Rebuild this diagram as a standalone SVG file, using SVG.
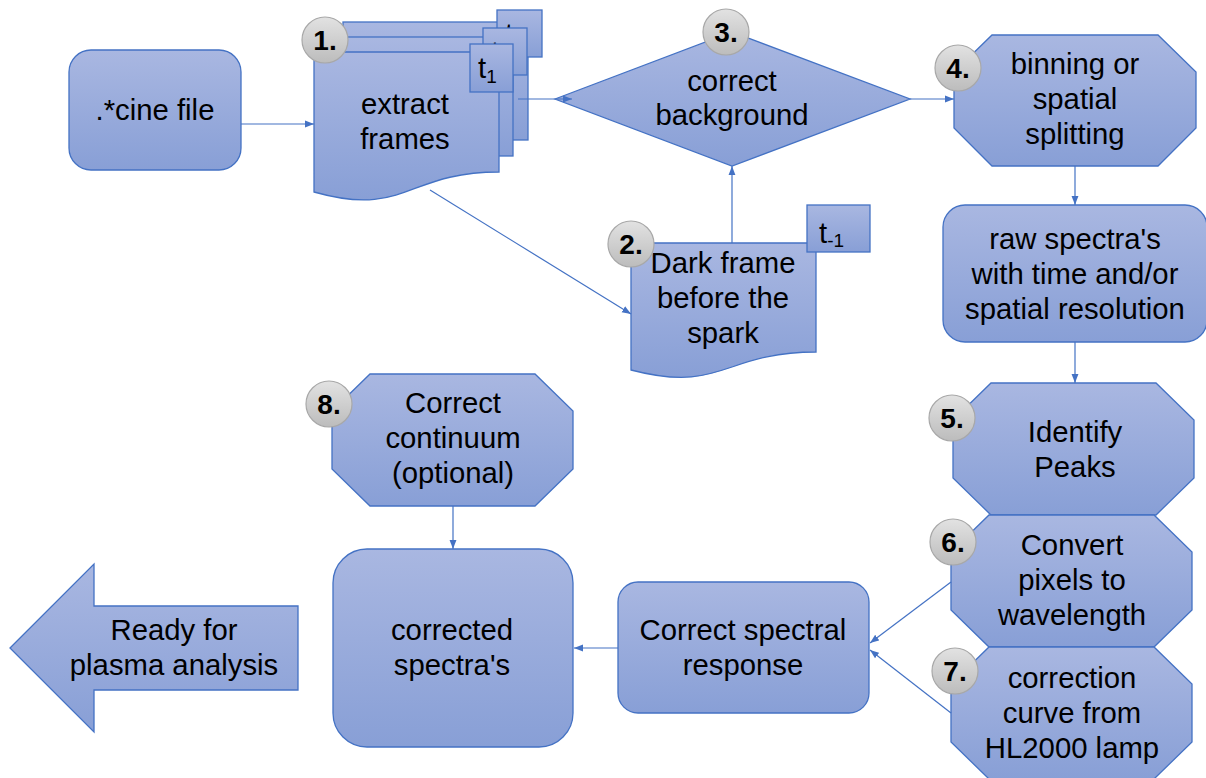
<svg xmlns="http://www.w3.org/2000/svg" width="1206" height="778" viewBox="0 0 1206 778">
<defs>
<linearGradient id="blue" x1="0" y1="0" x2="0" y2="1">
<stop offset="0" stop-color="#a9b7e1"/>
<stop offset="1" stop-color="#889fd6"/>
</linearGradient>
<linearGradient id="gray" x1="0" y1="0" x2="0" y2="1">
<stop offset="0" stop-color="#e2e2e2"/>
<stop offset="1" stop-color="#bcbcbc"/>
</linearGradient>
<marker id="ah" viewBox="0 0 10 10" refX="10" refY="5" markerWidth="9" markerHeight="9" markerUnits="userSpaceOnUse" orient="auto">
<path d="M0,1.2 L10,5 L0,8.8 Z" fill="#4472c4"/>
</marker>
</defs>
<style>
.s{fill:url(#blue);stroke:#4472c4;stroke-width:1.3}
.c{fill:url(#gray);stroke:#a8a8a8;stroke-width:1.2}
.t{font-family:"Liberation Sans",Arial,sans-serif;font-size:29.3px;fill:#000;text-anchor:middle}
.n{font-family:"Liberation Sans",Arial,sans-serif;font-size:28px;font-weight:bold;fill:#000;text-anchor:middle}
.sub{font-size:19px}
.l{fill:none;stroke:#4472c4;stroke-width:1.2;marker-end:url(#ah)}
</style>

<g id="cine">
<rect class="s" x="69" y="50" width="172" height="120" rx="22"/>
<text class="t" x="155" y="120">.*cine file</text>
</g>

<g id="extract">
<rect class="s" x="343" y="22" width="185" height="118"/>
<rect class="s" x="497" y="10" width="45" height="47"/>
<text class="t" x="505" y="44" style="text-anchor:start">t<tspan class="sub" dy="5">1</tspan></text>
<rect class="s" x="328" y="37" width="185" height="119"/>
<rect class="s" x="483" y="28" width="44" height="47"/>
<text class="t" x="491" y="62" style="text-anchor:start">t<tspan class="sub" dy="5">1</tspan></text>
<path class="s" d="M314,52 H499 V172 C406,172 406,218 314,192 Z"/>
<rect class="s" x="470" y="44" width="43" height="48"/>
<text class="t" x="478" y="78" style="text-anchor:start">t<tspan class="sub" dy="5">1</tspan></text>
<text class="t" x="405" y="114">extract</text>
<text class="t" x="405" y="149">frames</text>
<circle class="c" cx="325" cy="40" r="23"/>
<text class="n" x="325" y="50">1.</text>
</g>

<g id="dark">
<path class="s" d="M631,243 H816 V352 C723,352 723,394 631,370 Z"/>
<rect class="s" x="807" y="205" width="63" height="47"/>
<text class="t" x="819" y="243" style="text-anchor:start">t<tspan class="sub" dy="4">-1</tspan></text>
<text class="t" x="723" y="273">Dark frame</text>
<text class="t" x="723" y="308">before the</text>
<text class="t" x="723" y="343">spark</text>
<circle class="c" cx="631" cy="244" r="23"/>
<text class="n" x="631" y="254">2.</text>
</g>

<g id="background">
<path class="s" d="M555,99 L732,32 L910,99 L732,166 Z"/>
<text class="t" x="732" y="91">correct</text>
<text class="t" x="732" y="125">background</text>
<circle class="c" cx="726" cy="32" r="23"/>
<text class="n" x="726" y="42">3.</text>
</g>

<g id="binning">
<path class="s" d="M992,35 H1158 L1196,72 V128 L1158,166 H992 L954,128 V72 Z"/>
<text class="t" x="1075" y="74">binning or</text>
<text class="t" x="1075" y="109">spatial</text>
<text class="t" x="1075" y="144">splitting</text>
<circle class="c" cx="958" cy="68" r="23"/>
<text class="n" x="958" y="78">4.</text>
</g>

<g id="raw">
<rect class="s" x="943" y="205" width="264" height="137" rx="22"/>
<text class="t" x="1075" y="249">raw spectra's</text>
<text class="t" x="1075" y="284">with time and/or</text>
<text class="t" x="1075" y="319">spatial resolution</text>
</g>

<g id="peaks">
<path class="s" d="M991,383 H1156 L1194,420 V478 L1156,515 H991 L953,478 V420 Z"/>
<text class="t" x="1075" y="442">Identify</text>
<text class="t" x="1075" y="477">Peaks</text>
<circle class="c" cx="952" cy="418" r="23"/>
<text class="n" x="952" y="428">5.</text>
</g>

<g id="convert">
<path class="s" d="M989,515 H1154 L1192,552 V610 L1154,647 H989 L951,610 V552 Z"/>
<text class="t" x="1072" y="555">Convert</text>
<text class="t" x="1072" y="590">pixels to</text>
<text class="t" x="1072" y="625">wavelength</text>
<circle class="c" cx="953" cy="542" r="23"/>
<text class="n" x="953" y="552">6.</text>
</g>

<g id="curve">
<path class="s" d="M989,647 H1154 L1192,684 V742 L1154,779 H989 L951,742 V684 Z"/>
<text class="t" x="1072" y="688">correction</text>
<text class="t" x="1072" y="723">curve from</text>
<text class="t" x="1072" y="758">HL2000 lamp</text>
<circle class="c" cx="955" cy="671" r="23"/>
<text class="n" x="955" y="681">7.</text>
</g>

<g id="response">
<rect class="s" x="618" y="582" width="251" height="131" rx="20"/>
<text class="t" x="743" y="640">Correct spectral</text>
<text class="t" x="743" y="675">response</text>
</g>

<g id="corrected">
<rect class="s" x="333" y="549" width="240" height="198" rx="34"/>
<text class="t" x="452" y="640">corrected</text>
<text class="t" x="452" y="675">spectra's</text>
</g>

<g id="continuum">
<path class="s" d="M370,374 H535 L573,411 V469 L535,506 H370 L332,469 V411 Z"/>
<text class="t" x="453" y="413">Correct</text>
<text class="t" x="453" y="448">continuum</text>
<text class="t" x="453" y="483">(optional)</text>
<circle class="c" cx="329" cy="404" r="23"/>
<text class="n" x="329" y="414">8.</text>
</g>

<g id="ready">
<path class="s" d="M10,648 L94,564 V606 H298 V690 H94 V732 Z"/>
<text class="t" x="174" y="640">Ready for</text>
<text class="t" x="174" y="675">plasma analysis</text>
</g>

<g id="connectors">
<path class="l" d="M241,124 H314"/>
<path class="l" d="M518,99 H572"/>
<path class="l" d="M910,99 H954"/>
<path class="l" d="M1075,166 V205"/>
<path class="l" d="M1075,342 V383"/>
<path class="l" d="M951,582 L870,643"/>
<path class="l" d="M951,713 L870,650"/>
<path class="l" d="M618,648 H574"/>
<path class="l" d="M453,506 V549"/>
<path class="l" d="M732,243 V166"/>
<path class="l" d="M430,190 L631,314"/>
</g>
</svg>
